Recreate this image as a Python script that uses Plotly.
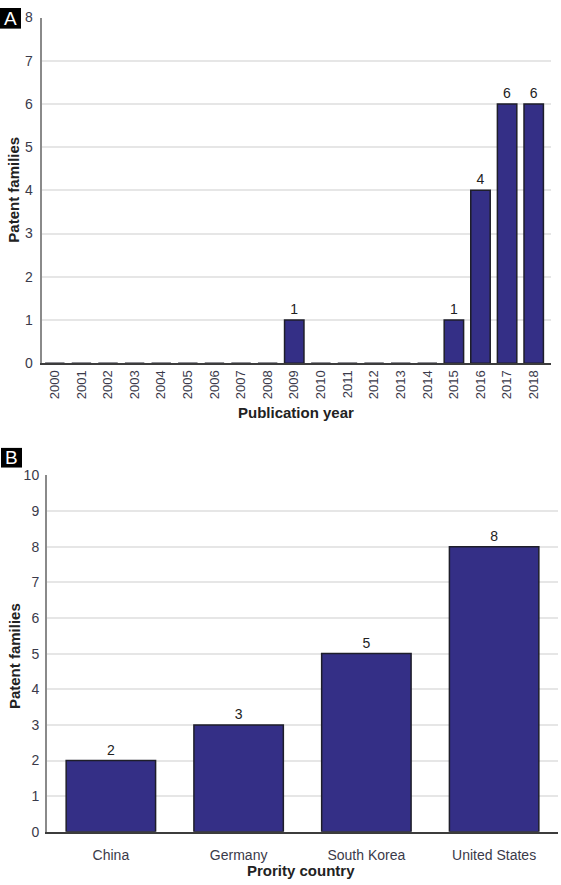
import plotly.graph_objects as go

# Panel A data
years = [str(y) for y in range(2000, 2019)]
families_by_year = [0, 0, 0, 0, 0, 0, 0, 0, 0, 1, 0, 0, 0, 0, 0, 1, 4, 6, 6]

# Panel B data
countries = ["China", "Germany", "South Korea", "United States"]
families_by_country = [2, 3, 5, 8]

W, H = 561, 885
BAR = "#342F86"
EDGE = "#1e1e2a"
FONT = "Liberation Sans, Arial, sans-serif"
TICKC = "#3a3a4a"

def px_x(p):
    return p / W

def px_y(p):
    return (H - p) / H

fig = go.Figure()

fig.add_trace(go.Bar(
    x=years, y=families_by_year,
    text=[str(v) if v else "" for v in families_by_year],
    textposition="outside", cliponaxis=False,
    textfont=dict(family=FONT, size=14, color="#222"),
    marker=dict(color=BAR, line=dict(color=EDGE, width=1.5)),
    width=0.73,
    xaxis="x", yaxis="y", showlegend=False, hoverinfo="skip"))

fig.add_trace(go.Bar(
    x=countries, y=families_by_country,
    text=[str(v) for v in families_by_country],
    textposition="outside", cliponaxis=False,
    textfont=dict(family=FONT, size=14, color="#222"),
    marker=dict(color=BAR, line=dict(color=EDGE, width=1.5)),
    width=0.70,
    xaxis="x2", yaxis="y2", showlegend=False, hoverinfo="skip"))

fig.update_layout(
    width=W, height=H,
    margin=dict(l=0, r=0, t=0, b=0),
    paper_bgcolor="white", plot_bgcolor="white",
    font=dict(family=FONT),
    xaxis=dict(domain=[px_x(41.5), px_x(551)], anchor="y",
               range=[-0.5, 18.65], type="category",
               tickangle=-90, showline=True, linecolor="#3c3c3c", linewidth=2,
               showgrid=False, zeroline=False, ticks="",
               tickfont=dict(family=FONT, size=13, color=TICKC)),
    yaxis=dict(domain=[px_y(361.7), px_y(9.7)], anchor="x",
               range=[0, 8], dtick=1, showline=True, linecolor="#8a8a8a", linewidth=2,
               showgrid=True, gridcolor="#e6e6e6", gridwidth=1.5,
               zeroline=False, ticks="", ticklabelstandoff=4,
               tickfont=dict(family=FONT, size=14, color=TICKC)),
    xaxis2=dict(domain=[px_x(47), px_x(558)], anchor="y2",
                range=[-0.5, 3.5], type="category",
                showline=True, linecolor="#3c3c3c", linewidth=2,
                showgrid=False, zeroline=False, ticks="", ticklabelstandoff=9,
                tickfont=dict(family=FONT, size=14, color=TICKC)),
    yaxis2=dict(domain=[px_y(839), px_y(476)], anchor="x2",
                range=[0, 10], dtick=1, showline=True, linecolor="#8a8a8a", linewidth=2,
                showgrid=True, gridcolor="#e6e6e6", gridwidth=1.5,
                zeroline=False, ticks="", ticklabelstandoff=3,
                tickfont=dict(family=FONT, size=14, color=TICKC)),
)

title_font = dict(family=FONT, size=15, color="#222")
ann = []
ann.append(dict(text="<b>Patent families</b>", x=px_x(14), y=px_y(185), xref="paper", yref="paper",
                textangle=-90, showarrow=False, font=title_font, xanchor="center", yanchor="middle"))
ann.append(dict(text="<b>Publication year</b>", x=px_x(296), y=px_y(412), xref="paper", yref="paper",
                showarrow=False, font=title_font, xanchor="center", yanchor="middle"))
ann.append(dict(text="<b>Patent families</b>", x=px_x(14), y=px_y(660), xref="paper", yref="paper",
                textangle=-90, showarrow=False, font=title_font, xanchor="center", yanchor="middle"))
ann.append(dict(text="<b>Prority country</b>", x=px_x(301), y=px_y(878), xref="paper", yref="paper",
                showarrow=False, font=title_font, xanchor="center", yanchor="middle"))
# panel letters
ann.append(dict(text="A", x=px_x(10.5), y=px_y(10.5), xref="paper", yref="paper",
                showarrow=False, font=dict(family=FONT, size=19, color="white"),
                xanchor="center", yanchor="middle"))
ann.append(dict(text="B", x=px_x(11.5), y=px_y(458), xref="paper", yref="paper",
                showarrow=False, font=dict(family=FONT, size=19, color="white"),
                xanchor="center", yanchor="middle"))
fig.update_layout(annotations=ann)

fig.update_layout(shapes=[
    dict(type="rect", xref="paper", yref="paper", x0=0, x1=px_x(21), y0=px_y(0), y1=px_y(21),
         fillcolor="black", line=dict(width=0), layer="below"),
    dict(type="rect", xref="paper", yref="paper", x0=px_x(1), x1=px_x(22), y0=px_y(448), y1=px_y(468),
         fillcolor="black", line=dict(width=0), layer="below"),
])

fig.write_html(
    "out.html",
    config={"displayModeBar": False},
    post_script="document.body.style.margin='0';document.body.style.padding='0';"
                "document.documentElement.style.overflow='hidden';",
)
